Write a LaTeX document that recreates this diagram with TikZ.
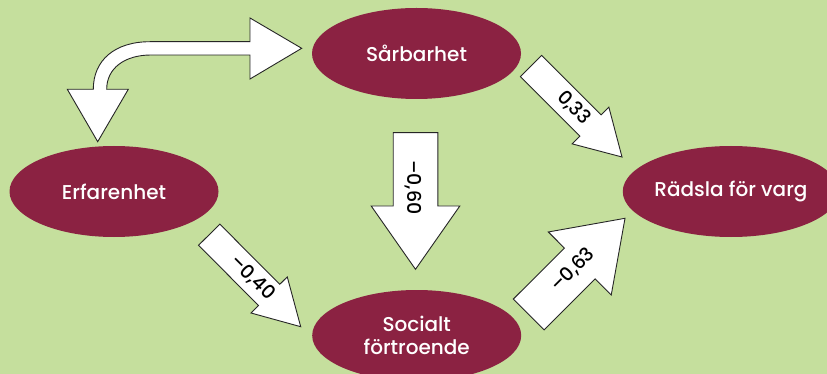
\documentclass[tikz,border=0pt]{standalone}
\usepackage{fontspec}
\setmainfont{Poppins}[UprightFont={* Medium}]
\usetikzlibrary{calc,shapes.geometric}
\definecolor{bg}{HTML}{C5DF9D}
\definecolor{wine}{HTML}{8B2242}
\newcommand\blockarr[6]{%
  \coordinate (#6b) at ($(#2)!#5!(#1)$);
  \draw[barrow] ($(#1)!#3!90:(#2)$) -- ($(#6b)!#3!90:(#2)$) -- ($(#6b)!#4!90:(#2)$)
    -- (#2) -- ($(#6b)!#4!-90:(#2)$) -- ($(#6b)!#3!-90:(#2)$) -- ($(#1)!#3!-90:(#2)$) -- cycle;}
\begin{document}
\begin{tikzpicture}[x=1pt,y=-1pt,
  ell/.style={ellipse,fill=wine,text=white,minimum width=209pt,minimum height=91pt,inner sep=0pt,
    font=\fontsize{20}{23}\selectfont,align=center},
  barrow/.style={draw=black!85,fill=white,line width=0.9pt,line join=miter},
  lab/.style={font=\fontsize{19}{20}\selectfont,text=black,inner sep=0pt}]
\useasboundingbox (0,0) rectangle (827,374);
\fill[bg] (0,0) rectangle (827,374);
\begin{scope}
\clip (0,0) rectangle (827,374);
\node[ell] (sar) at (416.5,53.5) {Sårbarhet};
\node[ell] (erf) at (114,191.5) {Erfarenhet};
\node[ell] (rad) at (731,191.5) {Rädsla för varg};
\node[ell] (soc) at (416.7,335.5) {Socialt\\förtroende};
\end{scope}
% curved double arrow between Erfarenhet and Sarbarhet
\draw[barrow] (250,41.7) -- (250,18) -- (301.7,48.3) -- (250,79) -- (250,55) -- (151,55)
  .. controls (125,55) and (106.7,68) .. (106.7,89.3) -- (128.3,89.3) -- (97.7,141.7)
  -- (67.3,89.3) -- (93.3,89.3) .. controls (93.3,60) and (115,41.7) .. (150,41.7) -- cycle;
% straight block arrows
\coordinate (a1t) at (531,66);    \coordinate (a1p) at (622,157);
\coordinate (a2t) at (209.2,234.7); \coordinate (a2p) at (300.7,326.7);
\coordinate (a3t) at (528.7,314.5); \coordinate (a3p) at (625,218.3);
\coordinate (a4t) at (415.5,132.7); \coordinate (a4p) at (415.5,269.3);
\blockarr{a1t}{a1p}{15pt}{26pt}{44.6pt}{a1}
\blockarr{a2t}{a2p}{15pt}{25.6pt}{44.8pt}{a2}
\blockarr{a3t}{a3p}{21.8pt}{44.5pt}{63.9pt}{a3}
\blockarr{a4t}{a4p}{22.3pt}{44.3pt}{63.3pt}{a4}
\node[lab,rotate=-45] (l1) at (574,108) {0,33};
\node[lab,rotate=-45] (l2) at (252.5,278) {–0,40};
\node[lab,rotate=45] (l3) at (573,270) {–0,63};
\node[lab,rotate=-90] (l4) at (413,187.5) {–0,60};
\end{tikzpicture}
\end{document}
